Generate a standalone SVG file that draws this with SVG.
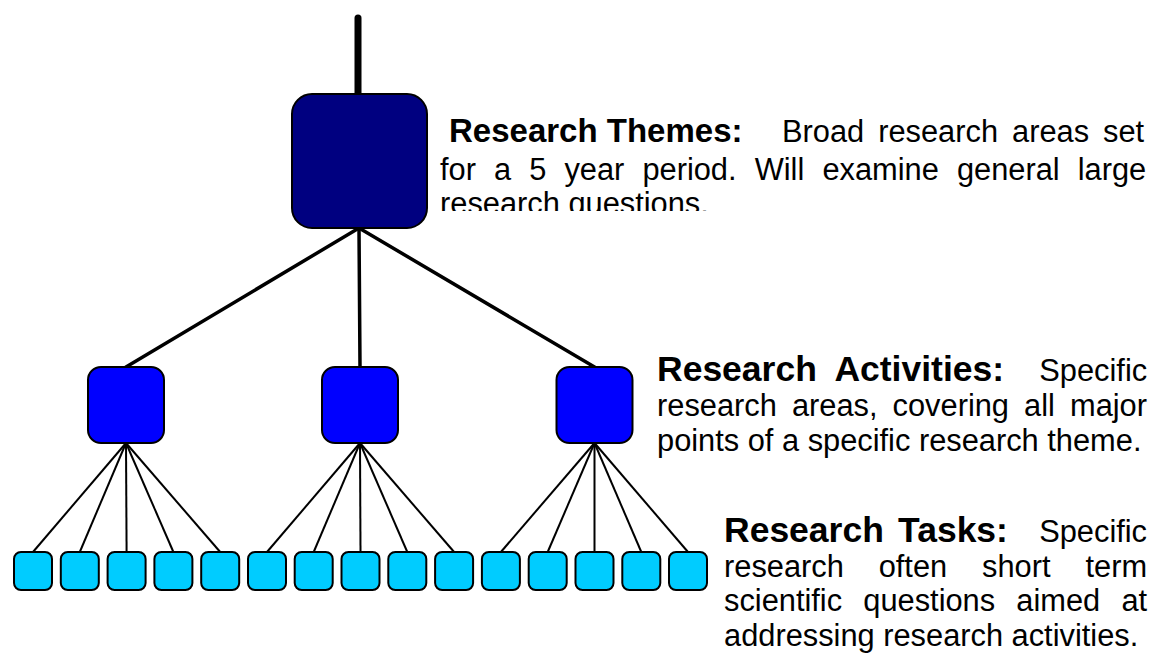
<svg xmlns="http://www.w3.org/2000/svg" width="1156" height="654" viewBox="0 0 1156 654">
<style>
.hd{font-family:"Liberation Sans",Arial,sans-serif;font-weight:bold;font-size:35.5px;fill:#000}
.hd1{font-family:"Liberation Sans",Arial,sans-serif;font-weight:bold;font-size:33px;fill:#000}
.bd{font-family:"Liberation Sans",Arial,sans-serif;font-size:30.8px;fill:#000}
.thick{stroke:#000;stroke-width:3.5;fill:none;stroke-linecap:round}
.thin{stroke:#000;stroke-width:2;fill:none}
.theme{fill:#000080;stroke:#000;stroke-width:2}
.act{fill:#0000FF;stroke:#000;stroke-width:2}
.task{fill:#00CCFF;stroke:#000;stroke-width:2}
</style>
<defs>
<clipPath id="clipThemes"><rect x="430" y="100" width="726" height="111"/></clipPath>
</defs>
<rect width="1156" height="654" fill="#fff"/>
<g id="connectors">
<line x1="358" y1="18" x2="358" y2="94" stroke="#000" stroke-width="7" stroke-linecap="round"/>
<line class="thick" x1="359" y1="228" x2="126" y2="367"/>
<line class="thick" x1="359" y1="228" x2="360" y2="367"/>
<line class="thick" x1="359" y1="228" x2="594.5" y2="367"/>
<line class="thin" x1="126" y1="443" x2="33" y2="552"/>
<line class="thin" x1="126" y1="443" x2="79.8" y2="552"/>
<line class="thin" x1="126" y1="443" x2="126.6" y2="552"/>
<line class="thin" x1="126" y1="443" x2="173.4" y2="552"/>
<line class="thin" x1="126" y1="443" x2="220.2" y2="552"/>
<line class="thin" x1="360" y1="443" x2="267" y2="552"/>
<line class="thin" x1="360" y1="443" x2="313.7" y2="552"/>
<line class="thin" x1="360" y1="443" x2="360.5" y2="552"/>
<line class="thin" x1="360" y1="443" x2="407.3" y2="552"/>
<line class="thin" x1="360" y1="443" x2="454.1" y2="552"/>
<line class="thin" x1="594.5" y1="443" x2="500.9" y2="552"/>
<line class="thin" x1="594.5" y1="443" x2="547.7" y2="552"/>
<line class="thin" x1="594.5" y1="443" x2="594.5" y2="552"/>
<line class="thin" x1="594.5" y1="443" x2="641.3" y2="552"/>
<line class="thin" x1="594.5" y1="443" x2="688" y2="552"/>
</g>
<g id="theme"><rect class="theme" x="292" y="94" width="135" height="134" rx="20"/></g>
<g id="activity1"><rect class="act" x="88" y="367" width="76" height="76" rx="13"/></g>
<g id="activity2"><rect class="act" x="322" y="367" width="76" height="76" rx="13"/></g>
<g id="activity3"><rect class="act" x="556.5" y="367" width="76" height="76" rx="13"/></g>
<g id="task1"><rect class="task" x="14" y="552" width="38" height="38" rx="7"/></g>
<g id="task2"><rect class="task" x="60.8" y="552" width="38" height="38" rx="7"/></g>
<g id="task3"><rect class="task" x="107.6" y="552" width="38" height="38" rx="7"/></g>
<g id="task4"><rect class="task" x="154.4" y="552" width="38" height="38" rx="7"/></g>
<g id="task5"><rect class="task" x="201.2" y="552" width="38" height="38" rx="7"/></g>
<g id="task6"><rect class="task" x="248" y="552" width="38" height="38" rx="7"/></g>
<g id="task7"><rect class="task" x="294.7" y="552" width="38" height="38" rx="7"/></g>
<g id="task8"><rect class="task" x="341.5" y="552" width="38" height="38" rx="7"/></g>
<g id="task9"><rect class="task" x="388.3" y="552" width="38" height="38" rx="7"/></g>
<g id="task10"><rect class="task" x="435.1" y="552" width="38" height="38" rx="7"/></g>
<g id="task11"><rect class="task" x="481.9" y="552" width="38" height="38" rx="7"/></g>
<g id="task12"><rect class="task" x="528.7" y="552" width="38" height="38" rx="7"/></g>
<g id="task13"><rect class="task" x="575.5" y="552" width="38" height="38" rx="7"/></g>
<g id="task14"><rect class="task" x="622.3" y="552" width="38" height="38" rx="7"/></g>
<g id="task15"><rect class="task" x="669" y="552" width="38" height="38" rx="7"/></g>
<g id="themes-label" clip-path="url(#clipThemes)">
<text class="hd1" x="449" y="142">Research Themes:</text>
<text class="bd" y="142"><tspan x="782">Broad</tspan><tspan x="878.2">research</tspan><tspan x="1012">areas</tspan><tspan x="1103">set</tspan></text>
<text class="bd" y="180"><tspan x="440">for</tspan><tspan x="494">a</tspan><tspan x="529.2">5</tspan><tspan x="564.4">year</tspan><tspan x="642.4">period.</tspan><tspan x="754.7">Will</tspan><tspan x="822.4">examine</tspan><tspan x="956.9">general</tspan><tspan x="1077.7">large</tspan></text>
<text class="bd" x="440" y="214">research questions.</text>
</g>
<g id="activities-label">
<text class="hd" y="381"><tspan x="657">Research</tspan><tspan x="834.4">Activities:</tspan></text>
<text class="bd" x="1039.3" y="381">Specific</text>
<text class="bd" y="416"><tspan x="657">research</tspan><tspan x="791.9">areas,</tspan><tspan x="892.6">covering</tspan><tspan x="1024.1">all</tspan><tspan x="1070">major</tspan></text>
<text class="bd" x="657" y="451">points of a specific research theme.</text>
</g>
<g id="tasks-label">
<text class="hd" y="542"><tspan x="724">Research</tspan><tspan x="898.1">Tasks:</tspan></text>
<text class="bd" x="1039.2" y="542">Specific</text>
<text class="bd" y="577"><tspan x="724">research</tspan><tspan x="878.7">often</tspan><tspan x="982.1">short</tspan><tspan x="1085.5">term</tspan></text>
<text class="bd" y="611"><tspan x="724">scientific</tspan><tspan x="863.3">questions</tspan><tspan x="1016.3">aimed</tspan><tspan x="1121.4">at</tspan></text>
<text class="bd" x="724" y="646">addressing research activities.</text>
</g>
</svg>
